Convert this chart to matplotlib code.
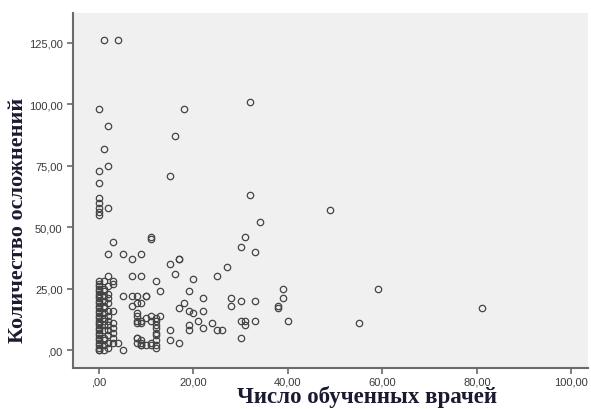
import matplotlib
matplotlib.use('Agg')
import matplotlib.pyplot as plt

# points (x = doctors trained, y = complications)
x_pts = ([0]*30 + [1]*16 + [2]*13 + [3]*8 +
         [1, 4, 0, 18, 2, 16, 1, 2, 0, 15, 0, 0, 0, 0, 0, 0, 2, 3, 11, 11,
          32, 32, 34, 31, 30, 33, 27, 25, 20, 39, 22, 28, 30, 33, 39, 28, 38, 38,
          22, 21, 24, 30, 31, 31, 33, 40, 22, 25, 26, 30, 49, 59, 55, 81,
          19, 18, 17, 19, 20, 19, 19, 17, 17,
          2, 5, 7, 9, 7, 9, 12, 15, 16, 17, 13, 10, 8, 8, 8, 9, 9, 5, 7, 7,
          8, 8, 8, 9, 10, 10, 11, 11, 12, 12, 13,
          12, 12, 12, 12, 12, 12, 12, 15, 15, 8, 9, 8, 9, 10, 11, 11, 4, 5, 9, 8, 9])
y_pts = ([0, 0, 1, 2, 3, 4, 5, 6, 7, 8, 9, 10, 11, 12, 13, 14, 15, 16, 17, 18,
          19, 20, 21, 22, 23, 24, 25, 26, 27, 28] +
         [0, 2, 4, 5, 8, 10, 12, 13, 15, 17, 18, 20, 22, 24, 25, 28] +
         [1, 3, 6, 8, 10, 12, 14, 16, 19, 21, 23, 26, 30] +
         [7, 9, 11, 16, 27, 28, 3, 5] +
         [126, 126, 98, 98, 91, 87, 82, 75, 73, 71, 68, 62, 60, 58, 56, 55, 58, 44, 46, 45,
          101, 63, 52, 46, 42, 40, 34, 30, 29, 25, 21, 21, 20, 20, 21, 18, 18, 17,
          16, 12, 11, 12, 12, 10, 12, 12, 9, 8, 8, 5, 57, 25, 11, 17,
          24, 19, 17, 16, 15, 10, 8, 37, 3,
          39, 39, 37, 39, 30, 30, 28, 35, 31, 37, 24, 22, 22, 19, 15, 19, 12, 22, 22, 18,
          14, 11, 5, 11, 13, 2, 14, 12, 13, 12, 14,
          10, 9, 7, 6, 4, 2, 1, 8, 4, 3, 4, 12, 3, 22, 3, 2, 3, 0, 2, 5, 2])

x_ticks = [0, 20, 40, 60, 80, 100]
x_labels = [',00', '20,00', '40,00', '60,00', '80,00', '100,00']
y_ticks = [0, 25, 50, 75, 100, 125]
y_labels = [',00', '25,00', '50,00', '75,00', '100,00', '125,00']

fig = plt.figure(figsize=(5.91, 4.10), dpi=100)
ax = fig.add_axes([0.1235, 0.1, 0.872, 0.866])
ax.set_facecolor('#f0f0f0')

ax.plot(x_pts, y_pts, 'o', markerfacecolor='none', markeredgecolor='#444444',
        markersize=4.6, markeredgewidth=0.9, linestyle='none')

ax.set_xlim(-5.5, 103.6)
ax.set_ylim(-7.3, 137.2)
ax.set_xticks(x_ticks)
ax.set_xticklabels(x_labels)
ax.set_yticks(y_ticks)
ax.set_yticklabels(y_labels)

for s in ['top', 'right']:
    ax.spines[s].set_visible(False)
for s in ['left', 'bottom']:
    ax.spines[s].set_color('#6a6a6a')
    ax.spines[s].set_linewidth(1.5)

ax.tick_params(direction='out', length=4, width=1.2, color='#6a6a6a',
               labelsize=8, labelcolor='#3a3a3a')
ax.tick_params(axis='x', pad=2)
for lab in ax.get_xticklabels() + ax.get_yticklabels():
    lab.set_family('Liberation Sans')

fig.text(0.621, 0.004, 'Число обученных врачей', ha='center', va='bottom',
         family='Liberation Serif', fontweight='bold', fontsize=16.5, color='#1a1a30')
fig.text(0.03, 0.463, 'Количество осложнений', ha='center', va='center', rotation=90,
         family='Liberation Serif', fontweight='bold', fontsize=16, color='#1a1a30')

fig.savefig('out.png', dpi=100)
